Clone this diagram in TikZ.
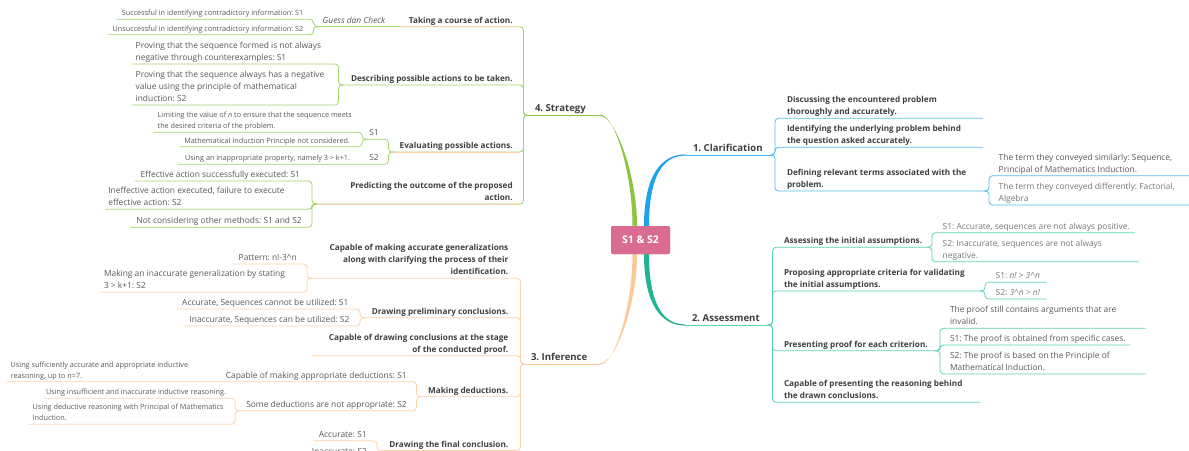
\documentclass[tikz,border=0pt]{standalone}
\usepackage{fontspec}
\setmainfont{Open Sans}
\usetikzlibrary{calc}
\frenchspacing
\definecolor{hdc}{HTML}{3F3F3F}
\definecolor{txc}{HTML}{5A5A5A}
\definecolor{tlc}{HTML}{787878}
\definecolor{grn}{HTML}{8CC540}
\definecolor{grl}{HTML}{A3D46C}
\definecolor{pch}{HTML}{FCC894}
\definecolor{pcl}{HTML}{FCD3AB}
\definecolor{blu}{HTML}{1CA3EC}
\definecolor{bll}{HTML}{55BEF2}
\definecolor{tea}{HTML}{22B393}
\definecolor{tel}{HTML}{5CD4B8}
\definecolor{rootc}{HTML}{D96C90}
\newcommand{\fR}{\fontsize{8.4}{12}\selectfont}
\newcommand{\fB}{\fontsize{8.2}{12}\selectfont\bfseries}
\newcommand{\fT}{\fontsize{7.25}{11}\selectfont}
\newcommand{\fL}{\fontsize{9.6}{12}\selectfont\bfseries}
\newcommand{\fC}{\fontsize{10.5}{12}\selectfont\bfseries}
\newcommand{\sdp}{\rule[-3.4pt]{0pt}{3.4pt}}
\begin{document}
\begin{tikzpicture}[x=1pt,y=-1pt,
  every node/.style={inner sep=0pt,outer sep=0pt},
  bh/.style={font=\fB\frenchspacing,text=hdc},
  rt/.style={font=\fR\frenchspacing,text=txc},
  tt/.style={font=\fT\frenchspacing,text=txc},
  bl/.style={font=\fL,text=hdc,anchor=south west},
  gl/.style={draw=grl,line width=0.8pt,rounded corners=3.5pt},
  pl/.style={draw=pcl,line width=0.8pt,rounded corners=3.5pt},
  bln/.style={draw=bll,line width=0.8pt,rounded corners=3.5pt},
  tln/.style={draw=tel,line width=0.8pt,rounded corners=3.5pt}]
\useasboundingbox (0,0) rectangle (1189,450);
\clip (0,0) rectangle (1189,450);
\fill[white] (0,0) rectangle (1189,450);

% ---------- root ----------
\node[fill=rootc,rounded corners=2pt,minimum width=59pt,minimum height=28pt,text=white,font=\fC] (root) at (640.5,240) {S1 \& S2};

% ---------- coordinates ----------
\coordinate (stS) at (600,115.3); \coordinate (stE) at (527,115.3);
\coordinate (inS) at (600,364);   \coordinate (inE) at (524,364);
\coordinate (clS) at (685,155);   \coordinate (clE) at (772,155);
\coordinate (asS) at (685,325);   \coordinate (asE) at (769.5,325);

% ---------- main branches (tapered) ----------
\fill[grn] ($(stS)+(0,-0.6)$) .. controls +(15,0) and +(0,-52) .. ($(root.north)+(-8,0)$)
   -- ($(root.north)+(-3.5,0)$) .. controls +(0,-52) and +(15,0) .. ($(stS)+(0,0.6)$) -- cycle;
\fill[pch] ($(inS)+(0,0.6)$) .. controls +(15,0) and +(0,52) .. ($(root.south)+(-8,0)$)
   -- ($(root.south)+(-3.5,0)$) .. controls +(0,52) and +(15,0) .. ($(inS)+(0,-0.6)$) -- cycle;
\fill[blu] ($(root.north)+(3.5,0)$) .. controls +(0,-50) and +(-24,0) .. ($(clS)+(0,-0.6)$)
   -- ($(clS)+(0,0.6)$) .. controls +(-22,0) and +(0,-50) .. ($(root.north)+(8.5,0)$) -- cycle;
\fill[tea] ($(root.south)+(3.5,0)$) .. controls +(0,50) and +(-24,0) .. ($(asS)+(0,0.6)$)
   -- ($(asS)+(0,-0.6)$) .. controls +(-22,0) and +(0,50) .. ($(root.south)+(8.5,0)$) -- cycle;
\draw[grn,line width=1pt] (stS) -- (stE);
\draw[pch,line width=1pt] (inS) -- (inE);
\draw[blu!80!white,line width=1pt] (clS) -- (clE);
\draw[tel,line width=1pt] (asS) -- (asE);
\node[fill=rootc,rounded corners=2pt,minimum width=59pt,minimum height=28pt,text=white,font=\fC] at (root.center) {S1 \& S2};

% ---------- branch labels ----------
\node[bl] (stl) at (535,115.3) {4. Strategy\sdp};
\node[bl] (inl) at (531,364) {3. Inference\sdp};
\node[bl] (cll) at (693,155) {1. Clarification\sdp};
\node[bl] (asl) at (692,325) {2. Assessment\sdp};

% ================= 1. Clarification =================
\coordinate (c1E) at (983,118.3); \coordinate (c2E) at (983,147.3); \coordinate (c3E) at (986,191);
\coordinate (c3aE) at (1189,175.7); \coordinate (c3bE) at (1189,205);
\draw[bln] (clE) -- ++(3,0) |- (c1E);
\draw[bln] (clE) -- ++(3,0) |- (c2E);
\draw[bln] (clE) -- ++(3,0) |- (c3E);
\draw[bln] (c3E) -- ++(3,0) |- (c3aE);
\draw[bln] (c3E) -- ++(3,0) |- (c3bE);
\node[bh,anchor=south west,align=left] (c1) at (787,118.3) {Discussing the encountered problem\\thoroughly and accurately.\sdp};
\node[bh,anchor=south west,align=left] (c2) at (787,147.3) {Identifying the underlying problem behind\\the question asked accurately.\sdp};
\node[bh,anchor=south west,align=left] (c3) at (787,191) {Defining relevant terms associated with the\\problem.\sdp};
\node[rt,anchor=south west,align=left] (c3a) at (998.7,175.7) {The term they conveyed similarly: Sequence,\\Principal of Mathematics Induction.\sdp};
\node[rt,text=tlc,anchor=south west,align=left] (c3b) at (998.7,205) {The term they conveyed differently: Factorial,\\Algebra\sdp};

% ================= 2. Assessment =================
\coordinate (a1E) at (929,247.3); \coordinate (a1aE) at (1135,232.7); \coordinate (a1bE) at (1139,261.7);
\coordinate (a2E) at (982,291); \coordinate (a2aE) at (1046.7,282.3); \coordinate (a2bE) at (1046.7,299);
\coordinate (a3E) at (937,350.7); \coordinate (a3aE) at (1146,328.3); \coordinate (a3bE) at (1130,345); \coordinate (a3cE) at (1146,374);
\coordinate (a4E) at (980,402.3);
\draw[tln] (asE) -- ++(3,0) |- (a1E);
\draw[tln] (asE) -- ++(3,0) |- (a2E);
\draw[tln] (asE) -- ++(3,0) |- (a3E);
\draw[tln] (asE) -- ++(3,0) |- (a4E);
\draw[tln] (a1E) -- ++(3,0) |- (a1aE);
\draw[tln] (a1E) -- ++(3,0) |- (a1bE);
\draw[tln] (a2E) -- ++(3,0) |- (a2aE);
\draw[tln] (a2E) -- ++(3,0) |- (a2bE);
\draw[tln] (a3E) -- ++(3,0) |- (a3aE);
\draw[tln] (a3E) -- ++(3,0) |- (a3bE);
\draw[tln] (a3E) -- ++(3,0) |- (a3cE);
\node[bh,anchor=south west] (a1) at (784,247.3) {Assessing the initial assumptions.\sdp};
\node[rt,text=tlc,anchor=south west] (a1a) at (942.7,232.7) {S1: Accurate, sequences are not always positive.\sdp};
\node[rt,text=tlc,anchor=south west,align=left] (a1b) at (942.7,261.7) {S2: Inaccurate, sequences are not always\\negative.\sdp};
\node[bh,anchor=south west,align=left] (a2) at (784,291) {Proposing appropriate criteria for validating\\the initial assumptions.\sdp};
\node[rt,text=tlc,anchor=south west] (a2a) at (995.7,282.3) {S1: \textit{n! > 3\textasciicircum n}\sdp};
\node[rt,text=tlc,anchor=south west] (a2b) at (995.7,299) {S2: \textit{3\textasciicircum n > n!}\sdp};
\node[bh,anchor=south west] (a3) at (784,350.7) {Presenting proof for each criterion.\sdp};
\node[rt,anchor=south west,align=left] (a3a) at (950,328.3) {The proof still contains arguments that are\\invalid.\sdp};
\node[rt,anchor=south west] (a3b) at (950,345) {S1: The proof is obtained from specific cases.\sdp};
\node[rt,anchor=south west,align=left] (a3c) at (950,374) {S2: The proof is based on the Principle of\\Mathematical Induction.\sdp};
\node[bh,anchor=south west,align=left] (a4) at (784,402.3) {Capable of presenting the reasoning behind\\the drawn conclusions.\sdp};

% ================= 4. Strategy =================
\coordinate (s1W) at (400,26.7); \coordinate (s1J) at (519.5,26.7); \coordinate (gdcW) at (316.5,26.7);
\coordinate (s1aW) at (116.7,19.3); \coordinate (s1bW) at (108.3,34.7);
\coordinate (s2W) at (341.5,85); \coordinate (s2aW) at (131.7,64); \coordinate (s2bW) at (131.7,105);
\coordinate (s3W) at (391.5,152); \coordinate (s3J) at (519.5,152);
\coordinate (ev1W) at (365,139.3); \coordinate (ev1aW) at (153.3,132.3); \coordinate (ev1bW) at (180,146.7);
\coordinate (ev2aW) at (178.3,164.3);
\coordinate (s4W) at (315,204); \coordinate (s4J) at (519.5,204);
\coordinate (s4aW) at (135,181); \coordinate (s4bW) at (105,209.3); \coordinate (s4cW) at (130,227.3);
\draw[gl] (stE) -- ++(-3.5,0) |- (s1W);
\draw[gl] (stE) -- ++(-3.5,0) |- (s2W);
\draw[gl] (stE) -- ++(-3.5,0) |- (s3W);
\draw[gl] (stE) -- ++(-3.5,0) |- (s4W);
\draw[pl,rounded corners=0pt] (s1J) -- (s1W);
\draw[pl,rounded corners=0pt] (s3J) -- (s3W);
\draw[pl,rounded corners=0pt] (s4J) -- (s4W);
\draw[gl] (s1W) -- (gdcW);
\draw[gl] (gdcW) -- ++(-3,0) |- (s1aW);
\draw[gl] (gdcW) -- ++(-3,0) |- (s1bW);
\draw[gl] (s2W) -- ++(-3,0) |- (s2aW);
\draw[gl] (s2W) -- ++(-3,0) |- (s2bW);
\draw[gl] (s3W) -- ++(-3,0) |- (ev1W);
\draw[gl] (s3W) -- ++(-3,0) |- (ev2aW);
\draw[gl] (ev1W) -- ++(-3,0) |- (ev1aW);
\draw[gl] (ev1W) -- ++(-3,0) |- (ev1bW);
\draw[gl] (s4W) -- ++(-3,0) |- (s4aW);
\draw[gl] (s4W) -- ++(-3,0) |- (s4bW);
\draw[gl] (s4W) -- ++(-3,0) |- (s4cW);
\node[bh,anchor=south east] (s1) at (512.7,26.7) {Taking a course of action.\sdp};
\node[rt,anchor=south west] (gdc) at (322.7,26.7) {\textit{Guess dan Check}\sdp};
\node[tt,anchor=south east] (s1a) at (303.3,19.3) {Successful in identifying contradictory information: S1\sdp};
\node[tt,anchor=south east] (s1b) at (303.3,34.7) {Unsuccessful in identifying contradictory information: S2\sdp};
\node[bh,anchor=south east] (s2) at (512.7,85) {Describing possible actions to be taken.\sdp};
\node[rt,anchor=south west,align=left] (s2a) at (135.7,64) {Proving that the sequence formed is not always\\negative through counterexamples: S1\sdp};
\node[rt,anchor=south west,align=left] (s2b) at (135.7,105) {Proving that the sequence always has a negative\\value using the principle of mathematical\\induction: S2\sdp};
\node[bh,anchor=south east] (s3) at (512.7,152) {Evaluating possible actions.\sdp};
\node[rt,anchor=south west] (ev1) at (369.3,139.3) {S1\sdp};
\node[rt,anchor=south west] (ev2) at (369.3,164.3) {S2\sdp};
\node[tt,anchor=south west,align=left] (ev1a) at (157.7,132.3) {Limiting the value of \textit{n} to ensure that the sequence meets\\the desired criteria of the problem.\sdp};
\node[tt,anchor=south east] (ev1b) at (350,146.7) {Mathematical Induction Principle not considered.\sdp};
\node[tt,anchor=south east] (ev2a) at (350,164.3) {Using an inappropriate property, namely 3 > k+1.\sdp};
\node[bh,anchor=south east,align=right] (s4) at (512.7,204) {Predicting the outcome of the proposed\\action.\sdp};
\node[rt,anchor=south east] (s4a) at (300,181) {Effective action successfully executed: S1\sdp};
\node[rt,anchor=south west,align=left] (s4b) at (108.3,209.3) {Ineffective action executed, failure to execute\\effective action: S2\sdp};
\node[rt,anchor=south east] (s4c) at (301.7,227.3) {Not considering other methods: S1 and S2\sdp};

% ================= 3. Inference =================
\coordinate (i1W) at (310,278.3); \coordinate (i1aW) at (231.7,264); \coordinate (i1bW) at (100,292.3);
\coordinate (i2W) at (363,317.7); \coordinate (i2aW) at (176.7,309); \coordinate (i2bW) at (183.3,326);
\coordinate (i3W) at (311.7,355.7);
\coordinate (i4W) at (419.5,396.7); \coordinate (i4a1W) at (6.7,381.7); \coordinate (i4bW) at (238,410.7);
\coordinate (i4b1W) at (43.3,398.3); \coordinate (i4b2W) at (28.3,424.3);
\coordinate (i5W) at (380,450.5); \coordinate (i5aW) at (313.3,440.7); \coordinate (i5bW) at (311.7,461);
\draw[pl] (inE) -- ++(-3.5,0) |- (i1W);
\draw[pl] (inE) -- ++(-3.5,0) |- (i2W);
\draw[pl] (inE) -- ++(-3.5,0) |- (i3W);
\draw[pl] (inE) -- ++(-3.5,0) |- (i4W);
\draw[pl] (inE) -- ++(-3.5,0) |- (i5W);
\draw[pl] (i1W) -- ++(-3,0) |- (i1aW);
\draw[pl] (i1W) -- ++(-3,0) |- (i1bW);
\draw[pl] (i2W) -- ++(-3,0) |- (i2aW);
\draw[pl] (i2W) -- ++(-3,0) |- (i2bW);
\draw[pl] (i4W) -- ++(-3,0) |- (i4a1W);
\draw[pl] (i4W) -- ++(-3,0) |- (i4bW);
\draw[pl] (i4bW) -- ++(-3,0) |- (i4b1W);
\draw[pl] (i4bW) -- ++(-3,0) |- (i4b2W);
\draw[pl] (i5W) -- ++(-3,0) |- (i5aW);
\draw[pl] (i5W) -- ++(-3,0) |- (i5bW);
\node[bh,anchor=south east,align=right] (i1) at (508.3,278.3) {Capable of making accurate generalizations\\along with clarifying the process of their\\identification.\sdp};
\node[rt,anchor=south east] (i1a) at (296.7,264) {Pattern: n!-3\textasciicircum n\sdp};
\node[rt,anchor=south west,align=left] (i1b) at (104,292.3) {Making an inaccurate generalization by stating\\3 > k+1: S2\sdp};
\node[bh,anchor=south east] (i2) at (508.3,317.7) {Drawing preliminary conclusions.\sdp};
\node[rt,anchor=south east] (i2a) at (348.3,309) {Accurate, Sequences cannot be utilized: S1\sdp};
\node[rt,anchor=south east] (i2b) at (349.3,326) {Inaccurate, Sequences can be utilized: S2\sdp};
\node[bh,anchor=south east,align=right] (i3) at (508.3,355.7) {Capable of drawing conclusions at the stage\\of the conducted proof.\sdp};
\node[bh,anchor=south east] (i4) at (508.3,396.7) {Making deductions.\sdp};
\node[rt,anchor=south east] (i4a) at (406.7,381.7) {Capable of making appropriate deductions: S1\sdp};
\node[tt,anchor=south west,align=left] (i4a1) at (10.7,381.7) {Using sufficiently accurate and appropriate inductive\\reasoning, up to n=7.\sdp};
\node[rt,anchor=south east] (i4b) at (406.7,410.7) {Some deductions are not appropriate: S2\sdp};
\node[tt,anchor=south east] (i4b1) at (226,398.3) {Using insufficient and inaccurate inductive reasoning.\sdp};
\node[tt,anchor=south west,align=left] (i4b2) at (32.7,424.3) {Using deductive reasoning with Principal of Mathematics\\Induction.\sdp};
\node[bh,anchor=south east] (i5) at (508.3,450.5) {Drawing the final conclusion.\sdp};
\node[rt,anchor=south east] (i5a) at (366.7,440.7) {Accurate: S1\sdp};
\node[rt,anchor=south east] (i5b) at (366.7,458) {Inaccurate: S2\sdp};
\end{tikzpicture}
\end{document}
